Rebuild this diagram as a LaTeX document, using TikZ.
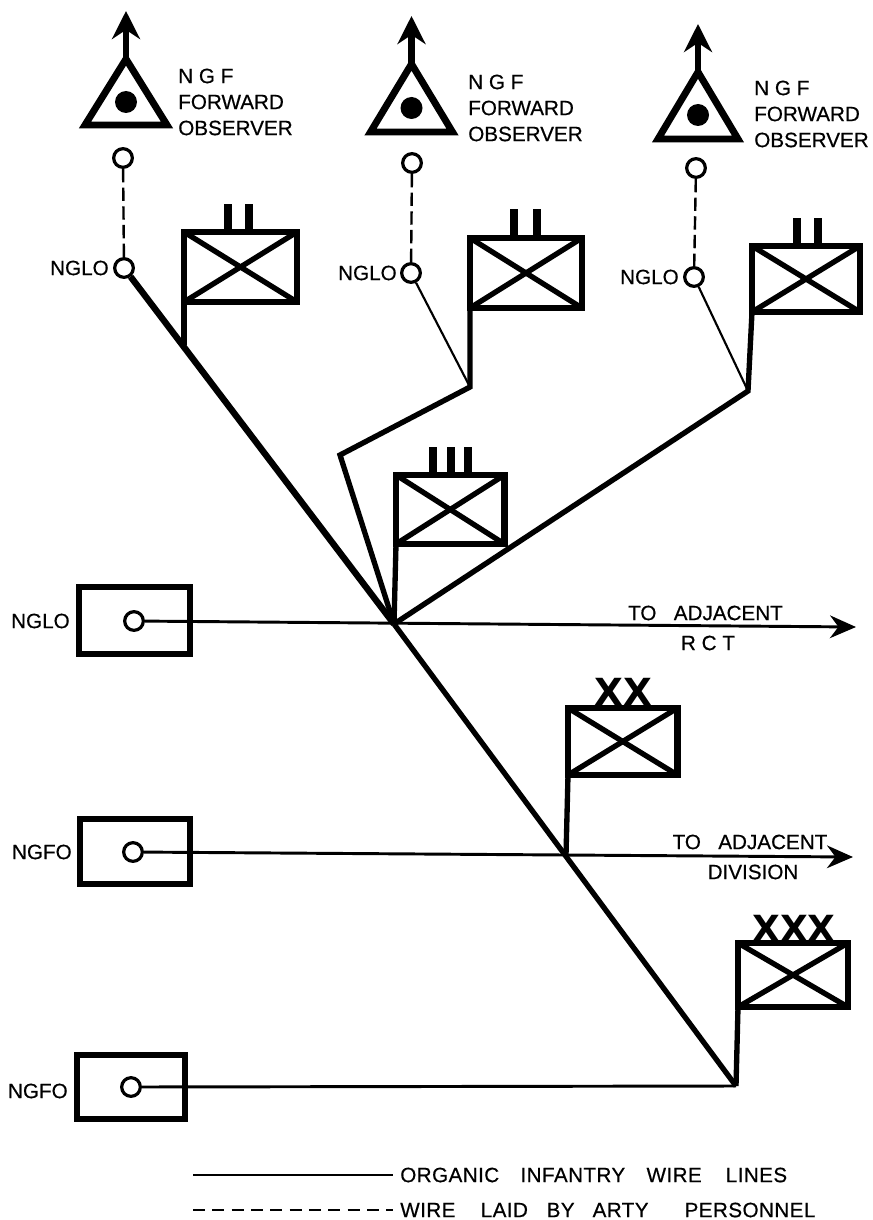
\documentclass[tikz,border=0pt]{standalone}
\usepackage{fontspec}
\setmainfont[FakeBold=0.5]{Liberation Sans}
\newfontfamily\legendfont[LetterSpace=2,FakeBold=0.5]{Liberation Sans}
\newfontfamily\markfont{DejaVu Sans}
\usetikzlibrary{arrows.meta}
\tikzset{
  heavy/.style={line width=4.8pt,line join=miter},
  medium/.style={line width=4pt,line join=miter},
  wire/.style={line width=2.2pt},
  thinwire/.style={line width=1.6pt},
  dashwire/.style={line width=1.8pt,dash pattern=on 10pt off 4pt},
  legenddash/.style={line width=1.7pt,dash pattern=on 9pt off 5.5pt},
  station/.style={circle,draw,line width=2.4pt,fill=white,inner sep=0pt,minimum size=14pt},
  echelon/.style={rectangle,draw,line width=4.6pt,inner sep=0pt,outer sep=0pt},
  stroke x/.style={line width=4pt,shorten >=2pt,shorten <=2pt},
  post/.style={rectangle,draw,line width=4.6pt,inner sep=0pt,outer sep=0pt},
  sign/.style={font=\fontsize{15.5}{19.5}\selectfont,align=left,anchor=west,inner sep=0pt},
  tag/.style={font=\fontsize{15.5}{18}\selectfont,anchor=east,inner sep=0pt},
  note/.style={font=\fontsize{15.5}{18}\selectfont,inner sep=0pt},
  key/.style={font=\legendfont\fontsize{15.5}{18}\selectfont,anchor=west,inner ysep=0pt,inner xsep=5.25pt},
  flow/.style={-{Stealth[length=19.5pt,width=17pt]}},
  up arrow/.style={line width=4.8pt,-{Stealth[length=21pt,width=21pt]}},
  obs/.style={draw,line width=5.2pt,line join=miter},
  dot/.style={circle,fill=black,inner sep=0pt,minimum size=16.5pt},
}
\newcommand{\ebox}[5]{% name, x1, y1, x2, y2 in px
  \node[echelon,minimum width={(#4-#2)*0.75pt},minimum height={(#5-#3)*0.75pt}] (#1) at ({(#2+#4)/2},{(#3+#5)/2}) {};
  \draw[stroke x] (#1.north west) -- (#1.south east);
  \draw[stroke x] (#1.north east) -- (#1.south west);
}
\newcommand{\tower}[6]{% name, x, apex y, half width, base y, dot y
  \coordinate (#1a) at (#2,#3);
  \coordinate (#1b) at ({#2-#4},#5);
  \coordinate (#1c) at ({#2+#4},#5);
  \coordinate (#1t) at (#2,{#3-48});
  \draw[obs] (#1a) -- (#1b) -- (#1c) -- cycle;
  \node[dot] (#1d) at (#2,#6) {};
  \draw[up arrow] (#1a) -- (#1t);
}
\begin{document}
\begin{tikzpicture}[x=0.75pt,y=-0.75pt]
\useasboundingbox (0,0) rectangle (873,1220);

% observers
\tower{A}{126}{59}{41}{125}{102}
\tower{B}{411.5}{64}{41}{132}{108}
\tower{C}{698}{72}{40}{139}{115}
\node[sign] (tA) at (178,102) {N G F\\FORWARD\\OBSERVER};
\node[sign] (tB) at (468,108) {N G F\\FORWARD\\OBSERVER};
\node[sign] (tC) at (754,114) {N G F\\FORWARD\\OBSERVER};

% stations
\node[station] (s1) at (123,158) {};
\node[station] (n1) at (124,268) {};
\node[station] (s2) at (412,163) {};
\node[station] (n2) at (411,273) {};
\node[station] (s3) at (696,168) {};
\node[station] (n3) at (694,277) {};
\node[tag] (l1) at (109,268) {NGLO};
\node[tag] (l2) at (397,273) {NGLO};
\node[tag] (l3) at (679,277) {NGLO};
\draw[dashwire] (s1) -- (n1);
\draw[dashwire] (s2) -- (n2);
\draw[dashwire] (s3) -- (n3);

% echelon boxes
\ebox{b1}{184}{232}{297}{302}
\ebox{b2}{470}{238}{582}{308}
\ebox{b3}{752}{246}{860}{312}
\ebox{r}{396}{475}{504.5}{544}
\ebox{dv}{568}{708}{677.5}{775}
\ebox{cp}{738}{943}{848}{1007}

% size marks
\foreach \n/\x/\ya/\yb in {p1/228/204/230,p2/249/204/230,p3/514/209/236,p4/537/209/236,p5/797/218/244,p6/818/218/244,p7/433/447/473,p8/451/447/473,p9/468/447/473}
  \draw[line width=6.4pt] (\x,\ya) -- (\x,\yb);
\node[font=\markfont\bfseries\fontsize{28}{28}\selectfont,inner sep=0pt] (xx) at (623,691.5) {XX};
\node[font=\markfont\bfseries\fontsize{27}{27}\selectfont,inner sep=0pt] (xxx) at (794,928) {XXX};

% junctions
\coordinate (hub) at (394,624);
\coordinate (j1) at (184,345);
\coordinate (j2) at (470,387);
\coordinate (k2) at (340,455);
\coordinate (j3) at (748,391);
\coordinate (jd) at (566,855);
\coordinate (jc) at (736,1086);

% left boxes
\node[post,minimum width=83.25pt,minimum height=50.25pt] (f1) at (134.5,620.5) {};
\node[post,minimum width=82.5pt,minimum height=48.75pt] (f2) at (135,851.5) {};
\node[post,minimum width=81pt,minimum height=48pt] (f3) at (131,1087) {};

% trunk
\draw[heavy] (n1) -- (hub);
\draw[medium] (hub) -- (jc);
\draw[medium] (b1.south west) -- (j1);
\draw[medium] (b2.south west) -- (j2) -- (k2) -- (hub);
\draw[medium] (b3.south west) -- (j3) -- (hub);
\draw[medium] (r.south west) -- (hub);
\draw[medium] (dv.south west) -- (jd);
\draw[medium] (cp.south west) -- (jc);
\draw[thinwire] (n2) -- (j2);
\draw[thinwire] (n3) -- (j3);

\coordinate (e1) at (856,627);
\coordinate (e2) at (853,857);
\node[station] (c1) at (134,621) {};
\node[station] (c2) at (133,852) {};
\node[station] (c3) at (131,1087) {};
\draw[wire,flow] (c1) -- (e1);
\draw[wire,flow] (c2) -- (e2);
\draw[wire] (c3) -- (jc);
\node[tag] (t1) at (70,621) {NGLO};
\node[tag] (t2) at (72,852) {NGFO};
\node[tag] (t3) at (68,1091) {NGFO};

\node[note] (d1) at (705.5,613) {TO\hspace*{13pt}ADJACENT};
\node[note] (d2) at (708,643) {R C T};
\node[note] (d3) at (750,842) {TO\hspace*{13pt}ADJACENT};
\node[note] (d4) at (753,872) {DIVISION};

% legend
\coordinate (la) at (193,1175);
\coordinate (lb) at (193,1210);
\node[key] (le1) at (393,1175) {ORGANIC\hspace*{16pt}INFANTRY\hspace*{16pt}WIRE\hspace*{18pt}LINES};
\node[key] (le2) at (393,1210) {WIRE\hspace*{19pt}LAID\hspace*{14pt}BY\hspace*{13.5pt}ARTY\hspace*{27pt}PERSONNEL};
\draw[wire] (la) -- (le1.west);
\draw[legenddash] (lb) -- (le2.west);
\end{tikzpicture}
\end{document}
